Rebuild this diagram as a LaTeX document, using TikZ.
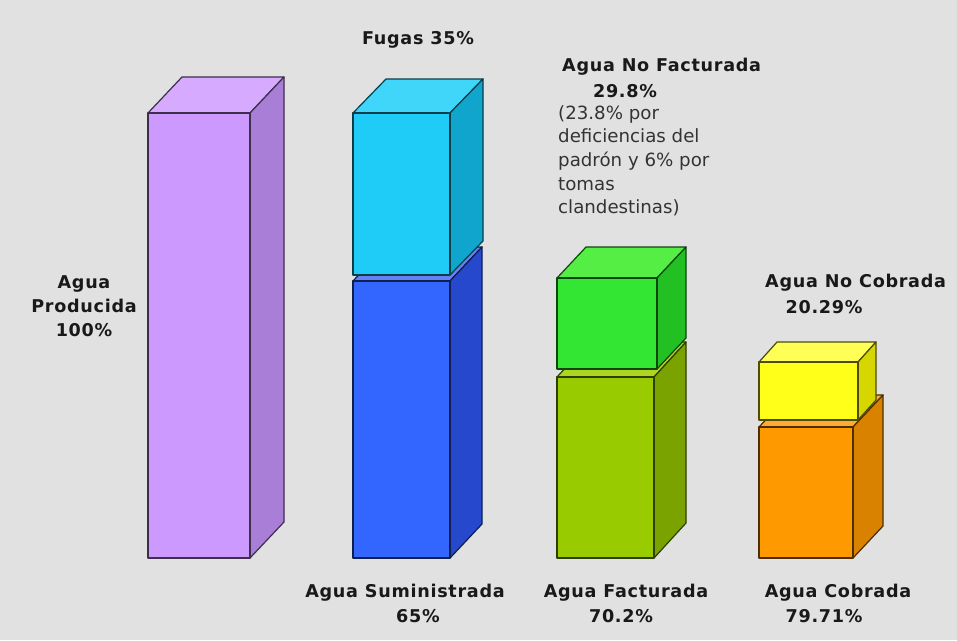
\documentclass[tikz,border=0pt]{standalone}
\usepackage{fontspec}
\setmainfont{DejaVu Sans}
\newfontfamily\lblfont[LetterSpace=4]{DejaVu Sans}
\definecolor{bg}{HTML}{E1E1E1}
\definecolor{puF}{HTML}{CC99FF}\definecolor{puT}{HTML}{D6AAFF}\definecolor{puS}{HTML}{A87ED6}
\definecolor{cyF}{HTML}{1ECCF7}\definecolor{cyT}{HTML}{40D6FA}\definecolor{cyS}{HTML}{10A5CC}
\definecolor{blF}{HTML}{3366FF}\definecolor{blT}{HTML}{6680F5}\definecolor{blS}{HTML}{2648CC}
\definecolor{grF}{HTML}{33E633}\definecolor{grT}{HTML}{55EE44}\definecolor{grS}{HTML}{22C022}
\definecolor{ygF}{HTML}{99CC00}\definecolor{ygT}{HTML}{AED620}\definecolor{ygS}{HTML}{7AA300}
\definecolor{yeF}{HTML}{FFFF1A}\definecolor{yeT}{HTML}{FFFF55}\definecolor{yeS}{HTML}{D6D600}
\definecolor{orF}{HTML}{FF9900}\definecolor{orT}{HTML}{FFAA33}\definecolor{orS}{HTML}{D98200}
% #1 xl, #2 ytop, #3 xr, #4 ybot, #5 dx, #6 dy(up), #7 front, #8 top, #9 side
\newcommand\cuboidbox[9]{%
  \filldraw[boxline, draw=#7!30!black, fill=#8] (#1,#2) -- (#1+#5,#2-#6) -- (#3+#5,#2-#6) -- (#3,#2) -- cycle;
  \filldraw[boxline, draw=#7!30!black, fill=#9] (#3,#2) -- (#3+#5,#2-#6) -- (#3+#5,#4-#6) -- (#3,#4) -- cycle;
  \filldraw[boxline, draw=#7!30!black, fill=#7] (#1,#2) rectangle (#3,#4);
}
\tikzset{
  boxline/.style={line width=1.2pt, line join=round},
  lbl/.style={font=\lblfont\bfseries\fontsize{17.6}{24}\selectfont, text=black!90, inner sep=0pt, align=center},
  txt/.style={font=\fontsize{18.2}{23.7}\selectfont, text=black!80, inner sep=0pt, align=left},
}
\begin{document}
\begin{tikzpicture}[x=1pt,y=-1pt]
\fill[bg] (0,0) rectangle (957,640);
\useasboundingbox (0,0) rectangle (957,640);
% bar 1
\cuboidbox{148}{113}{250}{558}{34}{36}{puF}{puT}{puS}
% bar 2
\cuboidbox{353}{281}{450}{558}{32}{34}{blF}{blT}{blS}
\cuboidbox{353}{113}{450}{275}{33}{34}{cyF}{cyT}{cyS}
% bar 3
\cuboidbox{557}{377}{654}{558}{32}{35}{ygF}{ygT}{ygS}
\cuboidbox{557}{278}{657}{369}{29}{31}{grF}{grT}{grS}
% bar 4
\cuboidbox{759}{427}{853}{558}{30}{32}{orF}{orT}{orS}
\cuboidbox{759}{362}{858}{420}{18}{20}{yeF}{yeT}{yeS}
% labels
\node[lbl] (prod) at (84,306) {Agua\\Producida\\100\%};
\node[lbl] (fug) at (418,40) {Fugas 35\%};
\node[lbl, anchor=west] (nf) at (562,67) {Agua No Facturada};
\node[lbl] (nfp) at (625,91) {29.8\%};
\node[txt, anchor=north west] (nfd) at (558,105) {(23.8\% por\\deficiencias del\\padrón y 6\% por\\tomas\\clandestinas)};
\node[lbl, anchor=west] (nc) at (765,283) {Agua No Cobrada};
\node[lbl] (ncp) at (824,307) {20.29\%};
\node[lbl] (s1) at (405,593) {Agua Suministrada};
\node[lbl] (s2) at (418,616) {65\%};
\node[lbl] (f1) at (626,593) {Agua Facturada};
\node[lbl] (f2) at (621,616) {70.2\%};
\node[lbl] (c1) at (838,593) {Agua Cobrada};
\node[lbl] (c2) at (824,616) {79.71\%};
\end{tikzpicture}
\end{document}
